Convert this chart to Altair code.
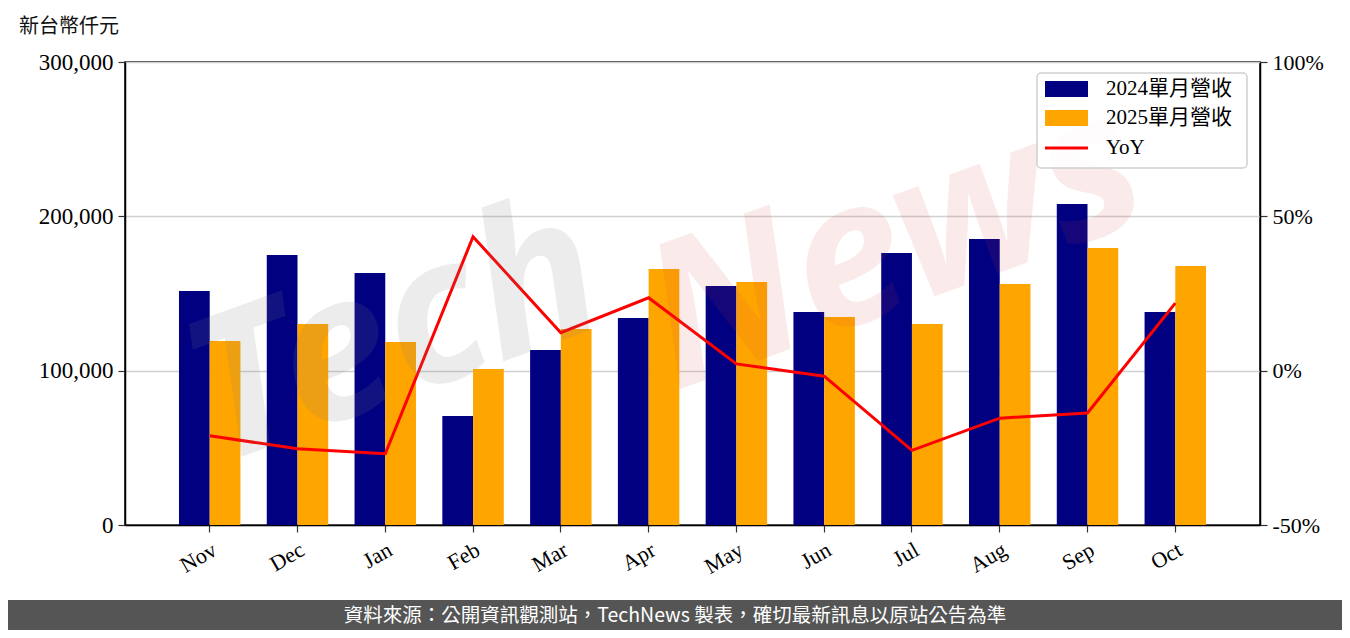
import altair as alt
import pandas as pd

months = ["Nov", "Dec", "Jan", "Feb", "Mar", "Apr", "May", "Jun", "Jul", "Aug", "Sep", "Oct"]
rev_2024 = [151600, 175000, 163300, 70600, 113400, 134100, 154900, 138000, 176200, 185300, 208000, 138000]
rev_2025 = [119200, 130200, 118600, 101100, 127000, 165900, 157500, 134800, 130200, 156200, 179500, 167800]
yoy_pct = [-21.1, -25.3, -26.9, 43.4, 12.3, 23.6, 2.2, -1.8, -25.8, -15.4, -13.7, 21.9]
series_names = ["2024單月營收", "2025單月營收"]
line_name = "YoY"
unit_label = "新台幣仟元"
footer = "資料來源：公開資訊觀測站，TechNews 製表，確切最新訊息以原站公告為準"
left_ticks = [0, 100000, 200000, 300000]
right_ticks = [-0.5, 0, 0.5, 1.0]

NAVY = "#000080"
ORANGE = "#FFA500"
RED = "#FF0000"
SERIF = "Liberation Serif, Noto Sans CJK TC"
W, H = 1135, 463

bars_df = pd.DataFrame(
    [{"month": m, "series": series_names[0], "value": v} for m, v in zip(months, rev_2024)]
    + [{"month": m, "series": series_names[1], "value": v} for m, v in zip(months, rev_2025)]
)
line_df = pd.DataFrame({"month": months, "yoy": [p / 100 for p in yoy_pct]})

xenc = alt.X(
    "month:N", sort=months, title=None,
    scale=alt.Scale(paddingInner=0.3, paddingOuter=0.615),
    axis=alt.Axis(labelAngle=-30, labelAlign="right", labelBaseline="top", labelPadding=7,
                  tickSize=7, labelFontSize=22),
)

bars = alt.Chart(bars_df).mark_bar().encode(
    x=xenc,
    xOffset=alt.XOffset("series:N", sort=series_names),
    y=alt.Y("value:Q", title=None,
            scale=alt.Scale(domain=[0, 300000], nice=False),
            axis=alt.Axis(values=left_ticks, format=",d", grid=True, gridColor="#d0d0d0",
                          gridWidth=1.5, tickSize=7, labelPadding=5, labelFontSize=23, orient="left")),
    color=alt.Color("series:N", scale=alt.Scale(domain=series_names, range=[NAVY, ORANGE]), legend=None),
)

line = alt.Chart(line_df).mark_line(color=RED, strokeWidth=3).encode(
    x=alt.X("month:N", sort=months),
    y=alt.Y("yoy:Q", title=None,
            scale=alt.Scale(domain=[-0.5, 1.0], nice=False),
            axis=alt.Axis(values=right_ticks, labelExpr="round(datum.value*100) + '%'", grid=False,
                          tickSize=7, labelPadding=5, orient="right")),
)

one = pd.DataFrame({"k": [0]})

wm_tech = alt.Chart(one).mark_text(
    text="Tech", font="Noto Sans", fontWeight="bold", fontStyle="italic", fontSize=200,
    angle=340, color="#808080", opacity=0.14, align="center", baseline="middle",
).encode(x=alt.value(270), y=alt.value(275))
wm_news = alt.Chart(one).mark_text(
    text="News", font="Noto Sans", fontWeight="bold", fontStyle="italic", fontSize=200,
    angle=340, color="#d04040", opacity=0.1, align="center", baseline="middle",
).encode(x=alt.value(770), y=alt.value(185))

title_txt = alt.Chart(one).mark_text(
    text=unit_label, font="Noto Sans CJK TC", fontSize=20, align="left", baseline="middle", color="#111",
).encode(x=alt.value(-106), y=alt.value(-35))

foot_rect = alt.Chart(one).mark_rect(color="#555555").encode(
    x=alt.value(-117), x2=alt.value(1217), y=alt.value(538), y2=alt.value(568))
foot_txt = alt.Chart(one).mark_text(
    text=footer, font="Noto Sans CJK TC", fontSize=19.5, color="white", align="center", baseline="middle",
).encode(x=alt.value(550), y=alt.value(554))

leg_box = alt.Chart(one).mark_rect(fill="white", stroke="#cccccc", strokeWidth=1.5, cornerRadius=4, opacity=0.9).encode(
    x=alt.value(912), x2=alt.value(1122), y=alt.value(11), y2=alt.value(106))
leg_r1 = alt.Chart(one).mark_rect(color=NAVY).encode(
    x=alt.value(920), x2=alt.value(963), y=alt.value(19), y2=alt.value(35))
leg_r2 = alt.Chart(one).mark_rect(color=ORANGE).encode(
    x=alt.value(920), x2=alt.value(963), y=alt.value(48), y2=alt.value(64))
leg_l = alt.Chart(one).mark_rule(color=RED, strokeWidth=3).encode(
    x=alt.value(920), x2=alt.value(963), y=alt.value(86))
leg_t1 = alt.Chart(one).mark_text(text=series_names[0], font=SERIF, fontSize=21, align="left", baseline="middle").encode(
    x=alt.value(981), y=alt.value(27))
leg_t2 = alt.Chart(one).mark_text(text=series_names[1], font=SERIF, fontSize=21, align="left", baseline="middle").encode(
    x=alt.value(981), y=alt.value(56))
leg_t3 = alt.Chart(one).mark_text(text=line_name, font=SERIF, fontSize=21, align="left", baseline="middle").encode(
    x=alt.value(981), y=alt.value(86))

chart = alt.layer(
    bars, line, wm_tech, wm_news, title_txt, foot_rect, foot_txt,
    leg_box, leg_r1, leg_r2, leg_l, leg_t1, leg_t2, leg_t3,
).resolve_scale(y="independent").properties(
    width=W, height=H,
    autosize=alt.AutoSizeParams(type="none"),
    padding={"left": 117, "top": 54, "right": 82, "bottom": 105},
).configure_view(
    stroke="black", strokeWidth=1.5,
).configure_axis(
    labelFont="Liberation Serif", labelFontSize=22, labelColor="black",
    domainColor="black", domainWidth=1.5, tickColor="#333333", tickWidth=1.2,
)

chart.save("out.html", embed_options={"renderer": "svg", "actions": False})
